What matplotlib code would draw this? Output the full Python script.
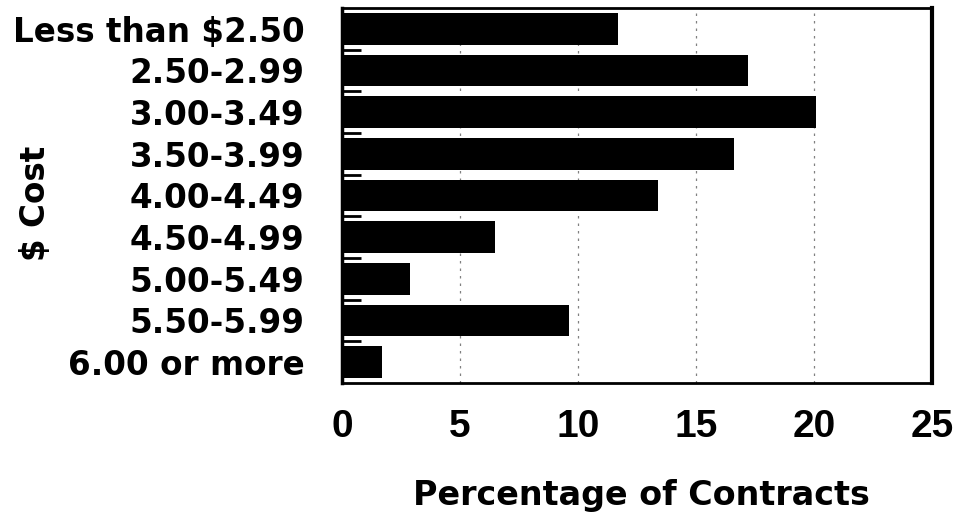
import matplotlib
matplotlib.use("Agg")
import matplotlib.pyplot as plt
import numpy as np

# Distribution of contract cost ranges
categories = ["Less than $2.50", "2.50-2.99", "3.00-3.49", "3.50-3.99",
              "4.00-4.49", "4.50-4.99", "5.00-5.49", "5.50-5.99", "6.00 or more"]
percentages = [11.7, 17.2, 20.1, 16.6, 13.4, 6.5, 2.9, 9.6, 1.7]
x_ticks = [0, 5, 10, 15, 20, 25]

W, H = 958, 519
fig = plt.figure(figsize=(W / 100, H / 100), dpi=100)
fig.patch.set_facecolor("white")

left, right, top, bottom = 342 / W, 932 / W, 1 - 8 / H, 1 - 383 / H
ax = fig.add_axes([left, bottom, right - left, top - bottom])

y = np.arange(len(categories))
ax.barh(y, percentages, height=0.76, color="black", zorder=2)

ax.set_xlim(0, 25)
ax.set_ylim(len(categories) - 0.5, -0.5)

# vertical grid lines at the major x ticks
for gx in x_ticks[1:-1]:
    ax.axvline(gx, color="0.5", lw=0.9, linestyle=(0, (2, 4)), zorder=1)

ax.set_xticks(x_ticks)
ax.set_xticklabels([str(v) for v in x_ticks],
                   fontfamily="Liberation Sans", fontweight="bold", fontsize=28)
ax.tick_params(axis="x", length=0, pad=19)

ax.set_yticks(y)
ax.set_yticklabels(categories, fontfamily="DejaVu Sans", fontweight="bold",
                   fontsize=23.5)
ax.tick_params(axis="y", which="major", length=0, pad=27)

# short inward ticks on the category boundaries
ax.set_yticks(np.arange(0.5, len(categories) - 0.5, 1.0), minor=True)
ax.tick_params(axis="y", which="minor", direction="in", length=14, width=2,
               color="black")

for side, lw in [("left", 2.5), ("bottom", 2.0), ("top", 2.0), ("right", 3.0)]:
    ax.spines[side].set_linewidth(lw)
    ax.spines[side].set_color("black")
ax.set_facecolor("white")

fig.text(641 / W, 1 - 505 / H, "Percentage of Contracts", ha="center",
         va="baseline", fontfamily="DejaVu Sans", fontweight="bold",
         fontsize=24)
fig.text(35 / W, 1 - 203 / H, "$ Cost", ha="center", va="center",
         rotation=90, fontfamily="DejaVu Sans", fontweight="bold",
         fontsize=23.5)

fig.savefig("out.png", dpi=100, facecolor="white")
